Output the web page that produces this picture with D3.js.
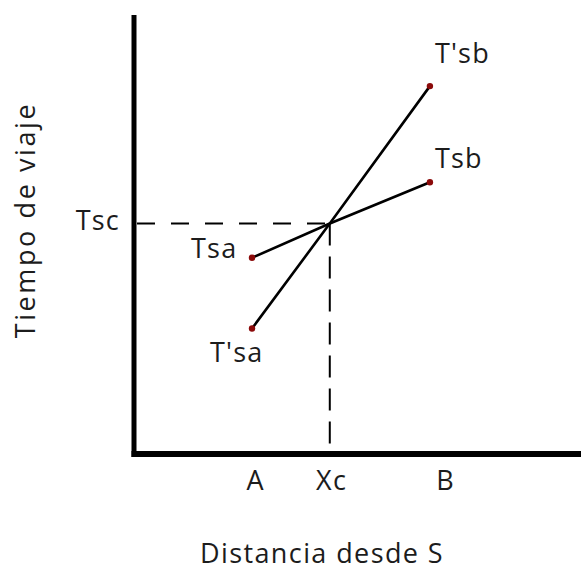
<!DOCTYPE html>
<html>
<head>
<meta charset="utf-8">
<script src="https://cdn.jsdelivr.net/npm/d3@7"></script>
<style>
  html, body { margin: 0; padding: 0; background: #fff; }
  svg { display: block; }
  text { font-family: "Open Sans", sans-serif; fill: #1c1c1c; }
</style>
</head>
<body>
<svg id="chart" width="581" height="570"></svg>
<script>
// Travel time vs. distance from S: two pairs of trips crossing at Xc
const tickLabels = ["A", "Xc", "B"];
const tickPositions = [2.72, 4.42, 6.97];

const pointNames = ["A", "Xc", "B"];
const pointDistances = [2.64, 4.38, 6.62];

// each series runs A -> crossing -> B
const seriesNames = ["Ts", "T's"];
const tsValues = [4.47, 5.25, 6.19];
const tPrimeValues = [2.86, 5.25, 8.38];

const endLabelsA = ["Tsa", "T'sa"];
const endLabelsB = ["Tsb", "T'sb"];
const crossingLabel = "Tsc";

const xTitle = "Distancia desde S";
const yTitle = "Tiempo de viaje";

const width = 581, height = 570;
const svg = d3.select("#chart");

const x = d3.scaleLinear().domain([0, 10]).range([134, 581]);
const y = d3.scaleLinear().domain([0, 10]).range([454, 15]);

const fontSize = 27;

// axes: heavy L-shaped frame
svg.append("line")
  .attr("x1", x(0)).attr("x2", x(0))
  .attr("y1", y(10)).attr("y2", y(0) + 3)
  .attr("stroke", "#000").attr("stroke-width", 5);
svg.append("line")
  .attr("x1", x(0) - 2.5).attr("x2", x(10))
  .attr("y1", y(0)).attr("y2", y(0))
  .attr("stroke", "#000").attr("stroke-width", 6);

// category labels under the axis
svg.append("g").selectAll("text")
  .data(tickLabels)
  .join("text")
  .attr("x", (d, i) => x(tickPositions[i]))
  .attr("y", 490)
  .attr("text-anchor", "middle")
  .attr("font-size", fontSize)
  .attr("letter-spacing", 1.2)
  .text(d => d);

// dashed guides through the crossing point
const xc = pointDistances[1];
const tc = tsValues[1];
svg.append("line")
  .attr("x1", x(0) + 3).attr("x2", x(xc))
  .attr("y1", y(tc)).attr("y2", y(tc))
  .attr("stroke", "#000").attr("stroke-width", 2)
  .attr("stroke-dasharray", "18 16");
svg.append("line")
  .attr("x1", x(xc)).attr("x2", x(xc))
  .attr("y1", y(tc)).attr("y2", y(0) - 3)
  .attr("stroke", "#000").attr("stroke-width", 2)
  .attr("stroke-dasharray", "22 11");

svg.append("text")
  .attr("x", 120).attr("y", y(tc) + 6)
  .attr("text-anchor", "end")
  .attr("font-size", fontSize)
  .attr("letter-spacing", 1.2)
  .text(crossingLabel);

// the two travel-time lines
const line = d3.line()
  .x((d, i) => x(pointDistances[i]))
  .y(d => y(d));

const series = [tsValues, tPrimeValues];
svg.append("g").selectAll("path")
  .data(series)
  .join("path")
  .attr("d", line)
  .attr("fill", "none")
  .attr("stroke", "#000")
  .attr("stroke-width", 2.6);

// end points
const ends = [];
series.forEach((vals, s) => {
  ends.push({ d: pointDistances[0], v: vals[0] });
  ends.push({ d: pointDistances[2], v: vals[2] });
});
svg.append("g").selectAll("circle")
  .data(ends)
  .join("circle")
  .attr("cx", d => x(d.d))
  .attr("cy", d => y(d.v))
  .attr("r", 3.2)
  .attr("fill", "#8b0a0a");

// end labels
const labelData = [
  { t: endLabelsA[0], d: pointDistances[0], v: tsValues[0], dx: -61, dy: 0, anchor: "start" },
  { t: endLabelsA[1], d: pointDistances[0], v: tPrimeValues[0], dx: -42, dy: 34, anchor: "start" },
  { t: endLabelsB[0], d: pointDistances[2], v: tsValues[2], dx: 5, dy: -14, anchor: "start" },
  { t: endLabelsB[1], d: pointDistances[2], v: tPrimeValues[2], dx: 5, dy: -23, anchor: "start" }
];
svg.append("g").selectAll("text")
  .data(labelData)
  .join("text")
  .attr("x", d => x(d.d) + d.dx)
  .attr("y", d => y(d.v) + d.dy)
  .attr("text-anchor", d => d.anchor)
  .attr("font-size", fontSize)
  .attr("letter-spacing", 1.2)
  .text(d => d.t);

// axis titles
svg.append("text")
  .attr("x", 322).attr("y", 563)
  .attr("text-anchor", "middle")
  .attr("font-size", fontSize)
  .attr("letter-spacing", 1.4)
  .text(xTitle);
svg.append("text")
  .attr("transform", "translate(35,220) rotate(-90)")
  .attr("text-anchor", "middle")
  .attr("font-size", fontSize)
  .attr("letter-spacing", 2.6)
  .text(yTitle);
</script>
</body>
</html>
